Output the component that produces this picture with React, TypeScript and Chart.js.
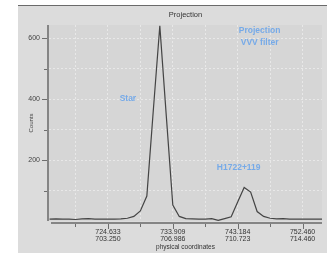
import React, { useEffect, useRef } from "react";
import { Chart, registerables } from "chart.js";

Chart.register(...registerables);

// physical coordinate of each sample
const xValues = [
  716.285, 717.213, 718.14, 719.068, 719.995, 720.923, 721.85, 722.778, 723.705, 724.633,
  725.561, 726.488, 727.416, 728.343, 729.271, 730.198, 731.126, 732.053, 732.981, 733.909,
  734.836, 735.764, 736.691, 737.619, 738.546, 739.474, 740.401, 741.329, 742.256, 743.184,
  744.112, 745.039, 745.967, 746.894, 747.822, 748.749, 749.677, 750.604, 751.532, 752.46,
  753.387, 754.315, 755.242,
];
const counts = [
  6, 7, 6, 6, 5, 7, 8, 6, 6, 6,
  6, 7, 9, 15, 33, 82, 364, 640, 344, 52,
  15, 8, 7, 6, 6, 8, 2, 8, 14, 62,
  110, 95, 31, 15, 9, 7, 8, 6, 6, 6,
  6, 6, 6,
];
const xTickValues = [719.995, 724.633, 729.271, 733.909, 738.546, 743.184, 747.822, 752.46];
const xMajorLabels = ["724.633", "733.909", "743.184", "752.460"];
const xSecondaryLabels = ["703.250", "706.986", "710.723", "714.460"];
const yTickValues = [100, 200, 300, 400, 500, 600];
const yLabeledTicks = [200, 400, 600];
const annotationTexts = ["Star", "Projection", "VVV filter", "H1722+119"];
const annotationX = [727.49, 746.32, 746.32, 743.33];
const annotationY = [400, 623, 584, 174];

const FONT = "'Liberation Sans', Arial, sans-serif";

const framePlugin = {
  id: "frame",
  beforeDraw(chart: any) {
    const ctx = chart.ctx;
    const a = chart.chartArea;
    ctx.save();
    ctx.fillStyle = "#ffffff";
    ctx.fillRect(0, 0, chart.width, chart.height);
    ctx.fillStyle = "#dcdcdc";
    ctx.fillRect(18, 5, chart.width - 18, chart.height - 5);
    ctx.fillStyle = "#6a6a6a";
    ctx.fillRect(18, 5, chart.width - 18, 1);
    ctx.fillStyle = "#d6d6d6";
    ctx.fillRect(a.left, a.top, a.right - a.left, a.bottom - a.top);
    ctx.restore();
  },
  afterDraw(chart: any) {
    const ctx = chart.ctx;
    const a = chart.chartArea;
    const xs = chart.scales.x;
    const ys = chart.scales.y;
    ctx.save();
    // axis lines
    ctx.strokeStyle = "#858585";
    ctx.lineWidth = 2;
    ctx.beginPath();
    ctx.moveTo(a.left - 1, a.top);
    ctx.lineTo(a.left - 1, a.bottom);
    ctx.moveTo(a.left + 2, a.bottom + 2);
    ctx.lineTo(a.right, a.bottom + 2);
    ctx.stroke();
    // tick marks
    ctx.lineWidth = 1;
    ctx.strokeStyle = "#6e6e6e";
    ctx.beginPath();
    yTickValues.forEach((v) => {
      const py = Math.round(ys.getPixelForValue(v)) + 0.5;
      const major = yLabeledTicks.includes(v);
      ctx.moveTo(a.left - (major ? 7 : 5), py);
      ctx.lineTo(a.left - 2, py);
    });
    xTickValues.forEach((v, i) => {
      const px = Math.round(xs.getPixelForValue(v)) + 0.5;
      const major = i % 2 === 1;
      ctx.moveTo(px, a.bottom + 3);
      ctx.lineTo(px, a.bottom + (major ? 8 : 6));
    });
    ctx.stroke();
    // title
    ctx.fillStyle = "#333333";
    ctx.font = `7.5px ${FONT}`;
    ctx.textAlign = "center";
    ctx.textBaseline = "middle";
    ctx.fillText("Projection", (a.left + a.right) / 2, 15);
    // annotations
    ctx.fillStyle = "#76aae8";
    ctx.font = `bold 8.5px ${FONT}`;
    annotationTexts.forEach((t, i) => {
      ctx.fillText(t, xs.getPixelForValue(annotationX[i]), ys.getPixelForValue(annotationY[i]));
    });
    ctx.restore();
  },
};

export default function App() {
  const ref = useRef<HTMLCanvasElement>(null);
  useEffect(() => {
    if (!ref.current) return;
    const chart = new Chart(ref.current, {
      type: "line",
      data: {
        datasets: [
          {
            data: xValues.map((x, i) => ({ x, y: counts[i] })),
            borderColor: "#444444",
            borderWidth: 1.2,
            pointRadius: 0,
            tension: 0,
            fill: false,
          },
        ],
      },
      options: {
        responsive: false,
        devicePixelRatio: 1,
        animation: false,
        events: [],
        layout: { padding: { left: 18, top: 25, right: 5, bottom: 0 } },
        plugins: {
          legend: { display: false },
          title: { display: false },
          tooltip: { enabled: false },
        },
        scales: {
          x: {
            type: "linear",
            min: 716.21,
            max: 755.24,
            afterBuildTicks: (s: any) => {
              s.ticks = xTickValues.map((v) => ({ value: v }));
            },
            afterFit: (s: any) => {
              s.height = 32;
            },
            ticks: {
              autoSkip: false,
              maxRotation: 0,
              padding: 8,
              color: "#333333",
              font: { size: 7, family: FONT, lineHeight: 0.92 },
              callback: (_v: any, i: number) =>
                i % 2 === 1 ? [xMajorLabels[(i - 1) / 2], xSecondaryLabels[(i - 1) / 2]] : "",
            },
            grid: { color: "#e8e8e8", drawTicks: false, lineWidth: 1 },
            border: { display: false, dash: [2, 2] },
            title: {
              display: true,
              text: "physical coordinates",
              color: "#333333",
              font: { size: 6.5, family: FONT, lineHeight: 1 },
              padding: { top: 0, bottom: 3 },
            },
          },
          y: {
            type: "linear",
            min: 0,
            max: 643,
            afterBuildTicks: (s: any) => {
              s.ticks = yTickValues.map((v) => ({ value: v }));
            },
            afterFit: (s: any) => {
              s.width = 31;
            },
            ticks: {
              autoSkip: false,
              padding: 9,
              color: "#444444",
              font: { size: 7, family: FONT },
              callback: (v: any) => (yLabeledTicks.includes(v) ? String(v) : ""),
            },
            grid: { color: "#e8e8e8", drawTicks: false, lineWidth: 1 },
            border: { display: false, dash: [2, 2] },
            title: {
              display: true,
              text: "Counts",
              color: "#444444",
              font: { size: 6, family: FONT, lineHeight: 1 },
              padding: { top: 10, bottom: 0 },
            },
          },
        },
      },
      plugins: [framePlugin],
    });
    return () => chart.destroy();
  }, []);
  return (
    <canvas
      ref={ref}
      width={327}
      height={253}
      style={{ position: "absolute", left: 0, top: 0, display: "block" }}
    />
  );
}
